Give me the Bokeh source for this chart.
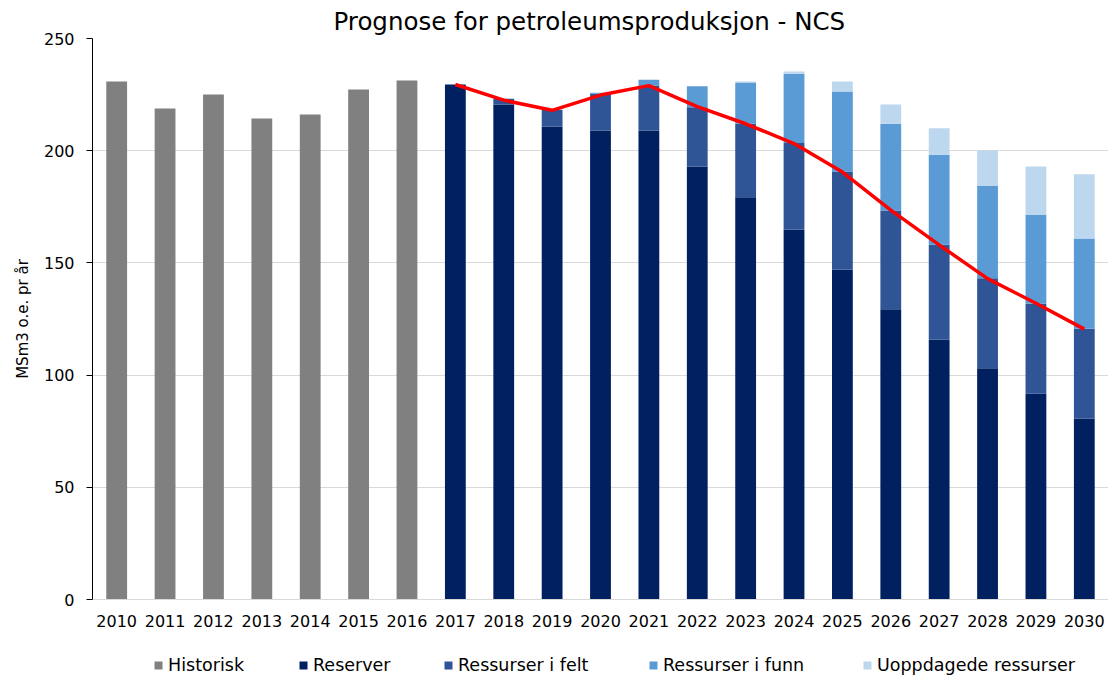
from bokeh.plotting import figure
from bokeh.layouts import column
from bokeh.models import ColumnDataSource, Legend, LegendItem, FactorRange, Range1d, FixedTicker
from bokeh.embed import file_html
from bokeh.resources import INLINE

# ---- data ----
years_hist = ["2010", "2011", "2012", "2013", "2014", "2015", "2016"]
historisk = [230.8, 218.8, 225.0, 214.3, 216.1, 227.3, 231.3]

years_prog = ["2017", "2018", "2019", "2020", "2021", "2022", "2023",
              "2024", "2025", "2026", "2027", "2028", "2029", "2030"]
reserver = [229.5, 220.6, 210.8, 209.0, 209.0, 193.0, 179.3, 164.9, 147.1, 129.4, 115.7, 103.1, 91.7, 80.7]
ressurser_felt = [0.0, 2.5, 7.4, 16.4, 20.0, 26.4, 32.7, 38.5, 43.6, 44.0, 42.4, 40.1, 40.1, 39.9]
ressurser_funn = [0.0, 0.0, 0.0, 0.4, 2.6, 9.3, 18.4, 30.9, 35.7, 38.6, 40.1, 41.1, 39.5, 40.3]
uoppdagede = [0.0, 0.0, 0.0, 0.0, 0.0, 0.0, 0.4, 1.0, 4.4, 8.6, 11.8, 15.8, 21.7, 28.6]
prognose = [229.5, 222.5, 218.0, 224.8, 229.0, 219.6, 212.0, 203.2, 190.5, 173.5, 158.0, 143.0, 132.0, 120.5]

all_years = years_hist + years_prog
y_ticks = [0, 50, 100, 150, 200, 250]

legend_names = ["Historisk", "Reserver", "Ressurser i felt", "Ressurser i funn", "Uoppdagede ressurser"]
series_keys = ["reserver", "felt", "funn", "uopp"]
series_colors = ["#002060", "#2F5597", "#5B9BD5", "#BDD7EE"]
hist_color = "#808080"

# layout: left pixel offset of each legend entry in the legend strip
legend_offsets = [61, 206, 351, 556, 770]

FONT = "DejaVu Sans"

p = figure(frame_width=1016, frame_height=561, x_range=FactorRange(*all_years), y_range=Range1d(0, 250),
           output_backend="svg", toolbar_location=None,
           min_border_left=92, min_border_right=0, min_border_top=38, min_border_bottom=0,
           title="Prognose for petroleumsproduksjon - NCS")
p.outline_line_color = None
p.background_fill_color = "white"
p.border_fill_color = "white"

p.title.text_font = FONT
p.title.text_font_size = "24.5px"
p.title.text_font_style = "normal"
p.title.text_color = "#000000"
p.title.align = "left"
p.title.offset = 241
p.title.standoff = 6

hist_src = ColumnDataSource(dict(x=years_hist, top=historisk))
p.vbar(x="x", top="top", width=0.43, source=hist_src, color=hist_color, line_color=None)

prog_src = ColumnDataSource(dict(x=years_prog, reserver=reserver, felt=ressurser_felt,
                                 funn=ressurser_funn, uopp=uoppdagede, prognose=prognose))
p.vbar_stack(series_keys, x="x", width=0.43, source=prog_src,
             color=series_colors, line_color=None)

p.line(x="x", y="prognose", source=prog_src, line_color="#FF0000", line_width=3.5)

# axes
p.yaxis.ticker = FixedTicker(ticks=y_ticks)
p.yaxis.axis_label = "MSm3 o.e. pr år"
p.yaxis.axis_label_text_font = FONT
p.yaxis.axis_label_text_font_size = "15px"
p.yaxis.axis_label_text_font_style = "normal"
p.yaxis.axis_label_text_color = "#000000"
p.yaxis.axis_label_standoff = 9
p.yaxis.major_label_text_font = FONT
p.yaxis.major_label_text_font_size = "16px"
p.yaxis.major_label_text_color = "#000000"
p.yaxis.major_label_standoff = 12
p.yaxis.axis_line_color = "#000000"
p.yaxis.major_tick_line_color = "#000000"
p.yaxis.major_tick_out = 6
p.yaxis.major_tick_in = 0
p.yaxis.minor_tick_line_color = None

p.xaxis.axis_line_color = "#d9d9d9"
p.xaxis.major_tick_line_color = None
p.xaxis.minor_tick_line_color = None
p.xaxis.major_label_text_font = FONT
p.xaxis.major_label_text_font_size = "16px"
p.xaxis.major_label_text_color = "#000000"
p.xaxis.major_label_standoff = 9
p.x_range.range_padding = 0
p.x_range.group_padding = 0

p.xgrid.grid_line_color = None
p.ygrid.grid_line_color = "#d9d9d9"
p.ygrid.grid_line_width = 1

# ---- legend strip below the chart ----
lf = figure(width=1108, height=46, x_range=Range1d(0, 1), y_range=Range1d(0, 1),
            output_backend="svg", toolbar_location=None,
            x_axis_location=None, y_axis_location=None,
            min_border_left=0, min_border_right=0, min_border_top=0, min_border_bottom=0)
lf.outline_line_color = None
lf.grid.visible = False
lf.border_fill_color = "white"
lf.background_fill_color = "white"

for name, col, off in zip(legend_names, [hist_color] + series_colors, legend_offsets):
    # swatch renderer kept outside the visible strip; only its legend glyph is shown
    r = lf.vbar(x=[-5.0], top=[0.0], width=0.1, color=col, line_color=None)
    lg = Legend(items=[LegendItem(label=name, renderers=[r])], orientation="horizontal",
                location=(off, 0),
                label_text_font=FONT, label_text_font_size="17.5px", label_text_color="#000000",
                glyph_width=10, glyph_height=10, label_standoff=5, spacing=0,
                padding=0, margin=0, border_line_color=None, background_fill_alpha=0)
    lf.add_layout(lg, "center")

layout = column(p, lf, spacing=0)
open("out.html", "w").write(file_html(layout, INLINE))
